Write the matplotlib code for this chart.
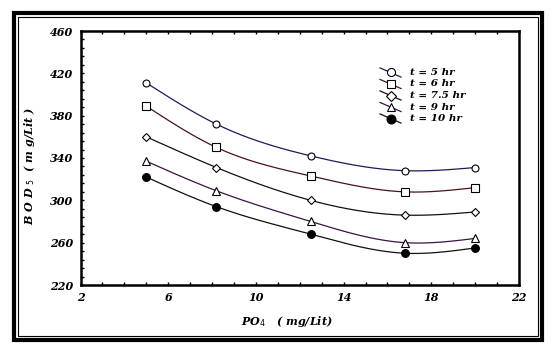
import numpy as np
import matplotlib
matplotlib.use("Agg")
import matplotlib.pyplot as plt
from matplotlib.patches import Rectangle
from matplotlib.ticker import FixedLocator


# PO4 dose (mg/Lit) and BOD5 (mg/Lit) for each retention time
po4 = [5, 8.2, 12.5, 16.8, 20]
bod_5hr = [411, 372, 342, 328, 331]
bod_6hr = [389, 350, 323, 308, 312]
bod_75hr = [360, 331, 300, 286, 289]
bod_9hr = [337, 309, 280, 260, 264]
bod_10hr = [322, 294, 268, 250, 255]

labels = ["t = 5 hr", "t = 6 hr", "t = 7.5 hr", "t = 9 hr", "t = 10 hr"]

x_major = [2, 6, 10, 14, 18, 22]
y_major = [220, 260, 300, 340, 380, 420, 460]


def natural_spline(x, y, n=200):
    """Natural cubic spline through the points, sampled on n positions."""
    x = np.asarray(x, float)
    y = np.asarray(y, float)
    h = np.diff(x)
    k = len(x)
    A = np.zeros((k, k))
    b = np.zeros(k)
    A[0, 0] = A[-1, -1] = 1
    for i in range(1, k - 1):
        A[i, i - 1] = h[i - 1]
        A[i, i] = 2 * (h[i - 1] + h[i])
        A[i, i + 1] = h[i]
        b[i] = 3 * ((y[i + 1] - y[i]) / h[i] - (y[i] - y[i - 1]) / h[i - 1])
    c = np.linalg.solve(A, b)
    xs = np.linspace(x[0], x[-1], n)
    idx = np.clip(np.searchsorted(x, xs) - 1, 0, k - 2)
    dx = xs - x[idx]
    bb = (y[idx + 1] - y[idx]) / h[idx] - h[idx] * (2 * c[idx] + c[idx + 1]) / 3
    d = (c[idx + 1] - c[idx]) / (3 * h[idx])
    ys = y[idx] + bb * dx + c[idx] * dx**2 + d * dx**3
    return xs, ys


series = [bod_5hr, bod_6hr, bod_75hr, bod_9hr, bod_10hr]
styles = [
    dict(marker="o", ms=5.0, mfc="white", line="#1c1c58"),
    dict(marker="s", ms=5.5, mfc="white", line="#4a1414"),
    dict(marker="D", ms=4.2, mfc="white", line="#111111"),
    dict(marker="^", ms=5.5, mfc="white", line="#3a1444"),
    dict(marker="o", ms=5.6, mfc="black", line="#111111"),
]

font = dict(family="DejaVu Serif", weight="bold", style="italic")

fig = plt.figure(figsize=(5.52, 3.5), dpi=100)
ax = fig.add_axes([80.5 / 552, 1 - 285 / 350, (519 - 80.5) / 552, (285 - 31) / 350])

for ys, st in zip(series, styles):
    sx, sy = natural_spline(po4, ys)
    ax.plot(sx, sy, color=st["line"], lw=0.9, zorder=2)
    ax.plot(po4, ys, ls="none", marker=st["marker"], ms=st["ms"],
            mfc=st["mfc"], mec="black", mew=0.8, zorder=3)

ax.set_xlim(2, 22)
ax.set_ylim(220, 460)
ax.xaxis.set_major_locator(FixedLocator(x_major))
ax.xaxis.set_minor_locator(FixedLocator(np.arange(2, 23, 1)))
ax.yaxis.set_major_locator(FixedLocator(y_major))
ax.yaxis.set_minor_locator(FixedLocator(np.arange(220, 461, 8)))
ax.tick_params(which="both", direction="in", length=2.5, width=1.0,
               top=True, right=False, labelsize=8, pad=5)
for lab in ax.get_xticklabels() + ax.get_yticklabels():
    lab.set(**font)
for sp in ax.spines.values():
    sp.set_linewidth(1.8)

ax.set_xlabel(r"PO$_4$   ( mg/Lit)", fontsize=8, labelpad=9, **font)
ax.set_ylabel(r"B O D $_5$  ( m g/Lit )", fontsize=8, labelpad=10, **font)
ax.xaxis.set_label_coords(0.47, -0.115)
ax.yaxis.set_label_coords(-0.10, 0.47)

# legend with slanted handle segments
for i, (lab, st) in enumerate(zip(labels, styles)):
    yl = 1 - (72.5 + i * 11.5 - 31) / 254
    x0, x1 = (380 - 80.5) / 438.5, (401 - 80.5) / 438.5
    ax.plot([x0, x1], [yl + 0.018, yl - 0.018], transform=ax.transAxes,
            color=st["line"], lw=0.9, zorder=2)
    ax.plot([(x0 + x1) / 2], [yl], transform=ax.transAxes, ls="none",
            marker=st["marker"], ms=st["ms"] + 0.8, mfc=st["mfc"], mec="black",
            mew=0.8, zorder=3)
    ax.text((410 - 80.5) / 438.5, yl, lab, transform=ax.transAxes,
            va="center", ha="left", fontsize=7.5, **font)

# double page frame
fig.patches.append(Rectangle((14 / 552, 1 - 340 / 350), 528 / 552, 327 / 350,
                             transform=fig.transFigure, fill=False,
                             edgecolor="black", lw=3.0))
fig.patches.append(Rectangle((17.5 / 552, 1 - 335.5 / 350), 520.5 / 552, 319 / 350,
                             transform=fig.transFigure, fill=False,
                             edgecolor="black", lw=0.8))

fig.savefig("out.png", dpi=100)
